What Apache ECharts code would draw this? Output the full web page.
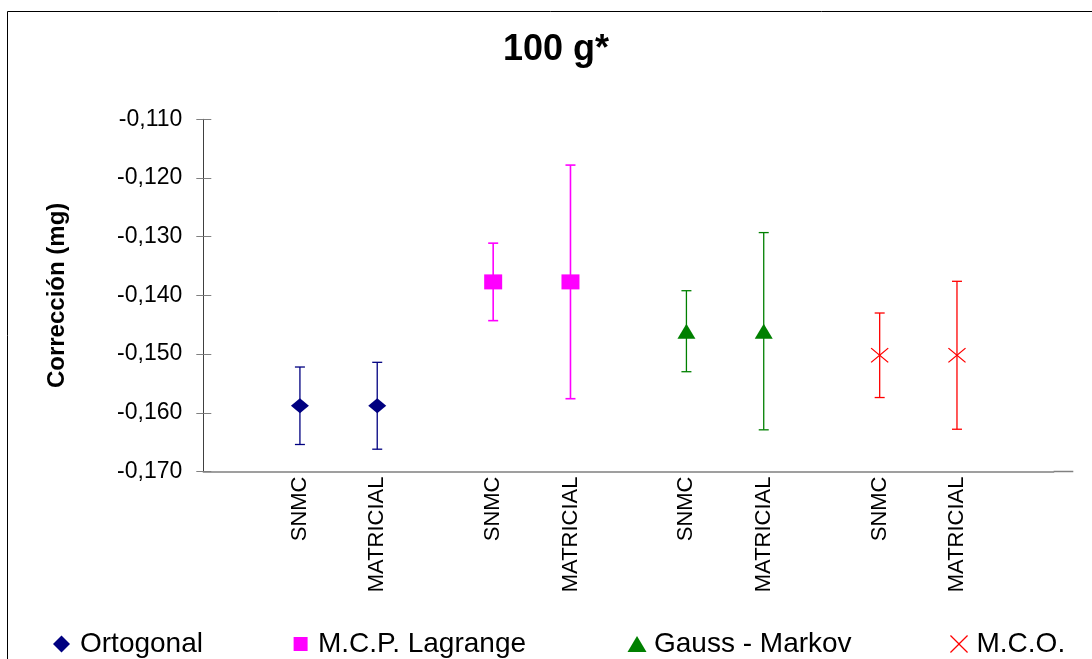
<!DOCTYPE html>
<html><head><meta charset="utf-8">
<script src="https://cdn.jsdelivr.net/npm/echarts@6/dist/echarts.min.js"></script>
<style>html,body{margin:0;padding:0;background:#fff}#c{width:1092px;height:659px}</style>
</head><body><div id="c"></div>
<script>
// ---- data ----
const titleText = '100 g*';
const yAxisName = 'Corrección (mg)';
const methods = ['Ortogonal', 'M.C.P. Lagrange', 'Gauss - Markov', 'M.C.O.'];
const procedures = ['SNMC', 'MATRICIAL'];
const ortogonalValues   = [-0.1588, -0.1588];
const ortogonalErrors   = [0.0066, 0.0074];
const lagrangeValues    = [-0.1377, -0.1377];
const lagrangeErrors    = [0.0066, 0.0199];
const gaussMarkovValues = [-0.1461, -0.1461];
const gaussMarkovErrors = [0.0069, 0.0168];
const mcoValues         = [-0.1502, -0.1502];
const mcoErrors         = [0.0072, 0.0126];
const yMin = -0.17, yMax = -0.11, yInterval = 0.01;

// ---- layout helpers ----
const FONT = "'Liberation Sans', Arial, sans-serif";
const axisCategories = [];
const slotIndex = [];
const pad = 2, between = 2;
for (let i = 0; i < pad; i++) axisCategories.push('');
methods.forEach((m, mi) => {
  if (mi > 0) for (let i = 0; i < between; i++) axisCategories.push('');
  const idx = [];
  procedures.forEach((p, pi) => {
    if (pi > 0) axisCategories.push('');
    idx.push(axisCategories.length);
    axisCategories.push(p);
  });
  slotIndex.push(idx);
});
for (let i = 0; i < pad; i++) axisCategories.push('');

const xPath = 'path://M0,5 L5,0 L50,45 L95,0 L100,5 L55,50 L100,95 L95,100 L50,55 L5,100 L0,95 L45,50 Z';
const defs = [
  { values: ortogonalValues, errors: ortogonalErrors, color: '#000080', symbol: 'diamond', lw: 1.3 },
  { values: lagrangeValues, errors: lagrangeErrors, color: '#FF00FF', symbol: 'rect', lw: 1.6 },
  { values: gaussMarkovValues, errors: gaussMarkovErrors, color: '#008000', symbol: 'triangle', lw: 1.3 },
  { values: mcoValues, errors: mcoErrors, color: '#FF0000', symbol: xPath, lw: 1.3 }
];

const series = [];
defs.forEach((d, k) => {
  series.push({
    name: methods[k] + ' error',
    type: 'custom',
    z: 1,
    silent: true,
    encode: { x: 0, y: 1 },
    data: d.values.map((v, i) => [slotIndex[k][i], v, d.errors[i]]),
    renderItem: (params, api) => {
      const x = api.value(0), v = api.value(1), e = api.value(2);
      const t = api.coord([x, v + e]);
      const b = api.coord([x, v - e]);
      const hw = 5;
      const st = { stroke: d.color, lineWidth: d.lw };
      return { type: 'group', children: [
        { type: 'line', shape: { x1: t[0], y1: t[1], x2: b[0], y2: b[1] }, style: st },
        { type: 'line', shape: { x1: t[0] - hw, y1: t[1], x2: t[0] + hw, y2: t[1] }, style: st },
        { type: 'line', shape: { x1: b[0] - hw, y1: b[1], x2: b[0] + hw, y2: b[1] }, style: st }
      ]};
    }
  });
  series.push({
    name: methods[k],
    type: 'scatter',
    z: 2,
    symbol: d.symbol,
    symbolSize: [18, 15],
    itemStyle: { color: d.color, opacity: 1 },
    data: d.values.map((v, i) => [slotIndex[k][i], v])
  });
});

const legendCommon = {
  top: 630, orient: 'horizontal', selectedMode: false, padding: 0,
  textStyle: { fontSize: 28, color: '#000', fontFamily: FONT }
};
const legendLayout = [
  { left: 53, w: 17, h: 17, padL: 5 },
  { left: 293.6, w: 14, h: 14, padL: 5.4 },
  { left: 627.5, w: 19, h: 16, padL: 2.5 },
  { left: 950, w: 20, h: 18, padL: 2.5 }
];
const legends = methods.map((m, k) => Object.assign({}, legendCommon, {
  data: [m], left: legendLayout[k].left,
  itemWidth: legendLayout[k].w, itemHeight: legendLayout[k].h,
  textStyle: Object.assign({}, legendCommon.textStyle, { padding: [0, 0, 0, legendLayout[k].padL] })
}));

const gridLeft = 203.3, gridTop = 119.3, gridW = 850.3, gridH = 352.2;

const chart = echarts.init(document.getElementById('c'), null, { renderer: 'canvas' });
chart.setOption({
  backgroundColor: '#fff',
  animation: false,
  textStyle: { fontFamily: FONT },
  title: {
    text: titleText, left: 556, top: 32, textAlign: 'center', padding: 0,
    textStyle: { fontSize: 36, fontWeight: 'bold', color: '#000', fontFamily: FONT }
  },
  legend: legends,
  grid: { left: gridLeft, top: gridTop, width: gridW, height: gridH, containLabel: false, outerBoundsMode: 'none' },
  xAxis: {
    type: 'category', data: axisCategories, boundaryGap: true,
    axisLine: { show: true, lineStyle: { color: '#808080', width: 1.5 } },
    axisTick: { show: false },
    splitLine: { show: false },
    axisLabel: { interval: 0, rotate: 90, fontSize: 22, color: '#000', margin: 5, fontFamily: FONT }
  },
  yAxis: [
    {
      type: 'value', min: yMin, max: yMax, interval: yInterval,
      name: yAxisName, nameLocation: 'middle', nameGap: 134,
      nameTextStyle: { fontSize: 24, fontWeight: 'bold', color: '#000', fontFamily: FONT },
      axisLine: { show: true, lineStyle: { color: '#404040', width: 1 } },
      axisTick: { show: true, length: 7, lineStyle: { color: '#808080' } },
      splitLine: { show: false },
      axisLabel: { fontSize: 23, color: '#000', margin: 21, fontFamily: FONT,
        formatter: v => v.toFixed(3).replace('.', ',') }
    },
    {
      type: 'value', min: yMin, max: yMax, interval: yInterval, position: 'left',
      axisLine: { show: false },
      axisTick: { show: true, inside: true, length: 8, lineStyle: { color: '#808080' } },
      axisLabel: { show: false }, splitLine: { show: false }
    }
  ],
  graphic: [
    { type: 'rect', silent: true, z: -1, shape: { x: 7.5, y: 11.5, width: 1200, height: 800 },
      style: { fill: 'none', stroke: '#000', lineWidth: 1 } },
    { type: 'line', silent: true, shape: { x1: gridLeft + gridW, y1: gridTop + gridH, x2: 1073.3, y2: gridTop + gridH },
      style: { stroke: '#808080', lineWidth: 1.5 } }
  ],
  series: series
});
</script></body></html>
